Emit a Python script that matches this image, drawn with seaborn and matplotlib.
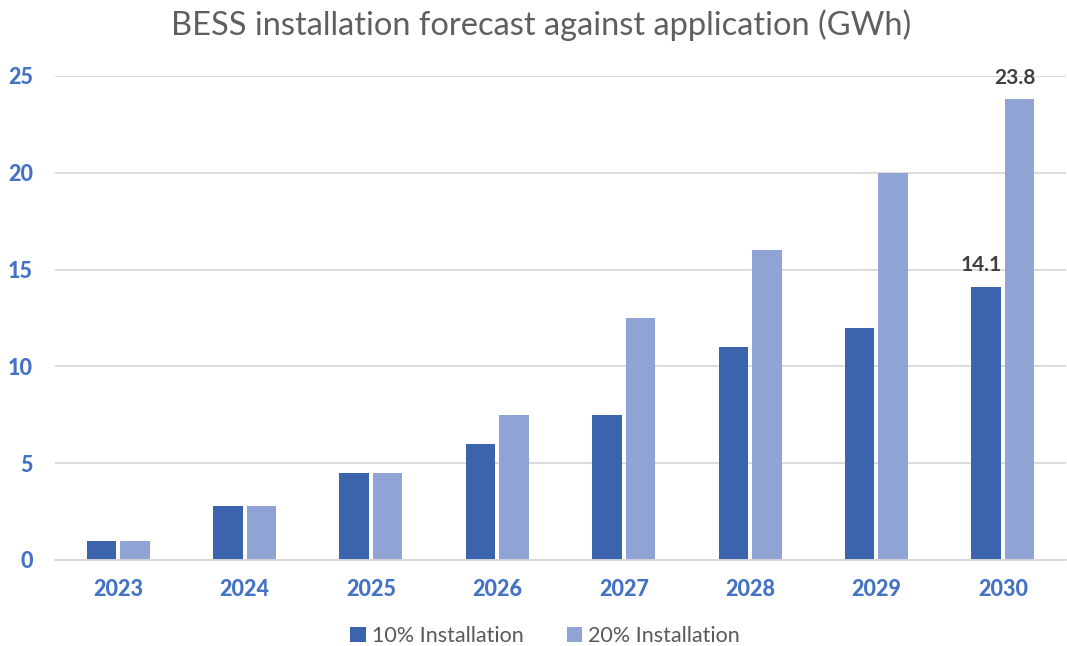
import matplotlib
matplotlib.use("Agg")
import matplotlib.pyplot as plt
import seaborn as sns
import pandas as pd

years = ["2023", "2024", "2025", "2026", "2027", "2028", "2029", "2030"]
series_names = ["10% Installation", "20% Installation"]
install_10 = [1.0, 2.8, 4.5, 6.0, 7.5, 11.0, 12.0, 14.1]
install_20 = [1.0, 2.8, 4.5, 7.5, 12.5, 16.0, 20.0, 23.8]
colors = ["#3C64AC", "#8FA3D4"]

df = pd.DataFrame({
    "year": years * 2,
    "value": install_10 + install_20,
    "series": [series_names[0]] * len(years) + [series_names[1]] * len(years),
})

sns.set_theme(style="white")
plt.rcParams["font.family"] = ["Lato", "DejaVu Sans"]

fig = plt.figure(figsize=(10.67, 6.46), dpi=100)
ax = fig.add_axes([55 / 1067, 1 - 560 / 646, 1011 / 1067, (560 - 76) / 646])

sns.barplot(data=df, x="year", y="value", hue="series", order=years,
            hue_order=series_names, palette=colors, width=0.53, gap=0.12,
            saturation=1, linewidth=0, ax=ax, legend=True)

ax.set_ylim(0, 25)
ax.set_yticks([0, 5, 10, 15, 20, 25])
ax.yaxis.grid(True, color="#D9D9D9", linewidth=1.3)
ax.set_axisbelow(True)
for s in ["top", "right", "left"]:
    ax.spines[s].set_visible(False)
ax.spines["bottom"].set_color("#D9D9D9")
ax.spines["bottom"].set_linewidth(1.3)
ax.set_xlabel("")
ax.set_ylabel("")
ax.tick_params(axis="both", length=0, labelsize=15.5, labelcolor="#4472C4")
ax.tick_params(axis="x", pad=14)
ax.tick_params(axis="y", pad=16)
for lab in ax.get_xticklabels() + ax.get_yticklabels():
    lab.set_fontweight("black")

# data labels for last category
bars0 = ax.containers[0]
bars1 = ax.containers[1]
for cont, vals in ((bars0, install_10), (bars1, install_20)):
    b = cont[-1]
    ax.text(b.get_x() + b.get_width() / 2 - 0.04, vals[-1] + 0.6, f"{vals[-1]:.1f}",
            ha="center", va="bottom", fontsize=15, fontweight="bold",
            color="#404040", clip_on=False)

fig.suptitle("BESS installation forecast against application (GWh)",
             x=0.507, y=0.985, fontsize=23.5, color="#5F5F5F", fontweight="normal")

ax.get_legend().remove()
handles, labels = ax.get_legend_handles_labels()
leg = fig.legend(handles, labels, loc="center", bbox_to_anchor=(0.511, 1 - 636 / 646),
                 ncol=2, frameon=False, fontsize=15.5, handlelength=0.7,
                 handleheight=0.7, handletextpad=0.3, columnspacing=2.0)
for t in leg.get_texts():
    t.set_color("#595959")

fig.savefig("out.png", dpi=100)
